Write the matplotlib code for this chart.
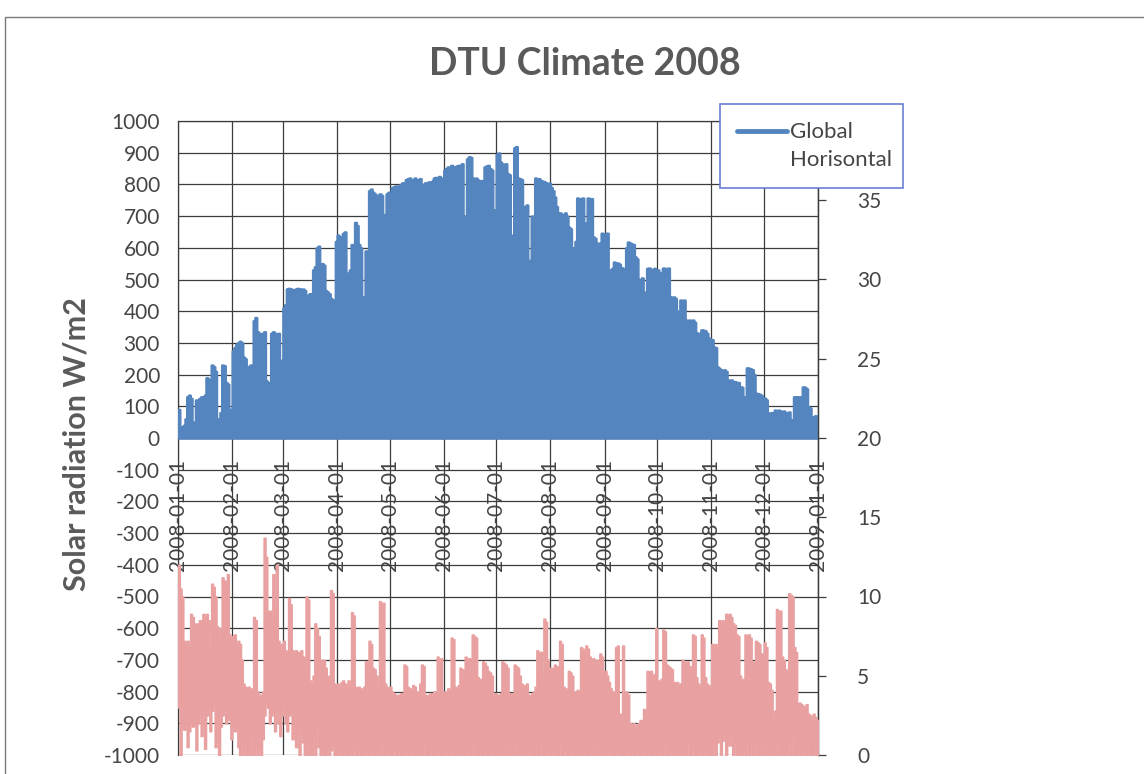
import numpy as np
import matplotlib
matplotlib.use("Agg")
import matplotlib.pyplot as plt
from matplotlib.patches import Rectangle
from matplotlib.lines import Line2D

plt.rcParams['font.family'] = ['Lato', 'DejaVu Sans']
plt.rcParams['axes.unicode_minus'] = False

# ---------------- data ----------------
title = "DTU Climate 2008"
ylabel = "Solar radiation W/m2"
legend_label = "Global\nHorisontal"
start_date = "2008-01-01"
month_labels = ["2008-01-01", "2008-02-01", "2008-03-01", "2008-04-01",
                "2008-05-01", "2008-06-01", "2008-07-01", "2008-08-01",
                "2008-09-01", "2008-10-01", "2008-11-01", "2008-12-01",
                "2009-01-01"]
left_ticks = list(range(-1000, 1001, 100))
right_limits = [0, 40]
right_ticks = list(range(0, 36, 5))   # the 40 label sits behind the legend

# daily peak of global horizontal radiation, W/m2 (night values are 0)
ghi_daily_peak = [
    90, 35, 30, 40, 60, 130, 135, 125, 50, 45, 120, 115, 125, 130, 125, 135, 190, 185, 160, 230, 225, 210, 55, 60, 80, 230, 228, 175, 170, 85, 90,
    275, 285, 295, 300, 305, 300, 255, 250, 225, 220, 230, 225, 370, 380, 335, 330, 250, 330, 335, 180, 175, 170, 330, 335, 330, 325, 330, 240, 245,
    410, 420, 470, 472, 470, 468, 360, 470, 472, 470, 468, 470, 465, 280, 450, 455, 445, 530, 540, 600, 605, 300, 550, 545, 465, 460, 455, 440, 435, 380, 620,
    640, 635, 360, 645, 650, 520, 510, 530, 610, 605, 680, 670, 610, 600, 440, 445, 590, 585, 780, 785, 775, 770, 765, 760, 770, 765, 700, 705, 770, 775,
    625, 790, 792, 795, 790, 795, 800, 805, 795, 815, 818, 820, 815, 810, 820, 815, 812, 818, 615, 800, 805, 800, 808, 805, 810, 820, 822, 818, 825, 820, 815,
    845, 850, 855, 850, 860, 855, 850, 858, 860, 855, 865, 700, 690, 880, 887, 885, 820, 815, 820, 814, 810, 812, 520, 855, 858, 860, 850, 845, 552, 720,
    895, 899, 870, 864, 860, 865, 834, 830, 640, 634, 915, 919, 820, 818, 815, 730, 725, 735, 555, 560, 700, 680, 820, 815, 818, 812, 810, 808, 805, 800, 804,
    790, 780, 760, 730, 435, 710, 705, 700, 710, 700, 665, 660, 600, 580, 620, 757, 750, 755, 757, 678, 670, 757, 750, 755, 634, 630, 615, 612, 615, 646, 640,
    645, 646, 530, 520, 535, 555, 550, 552, 548, 537, 535, 382, 600, 618, 615, 612, 610, 571, 565, 500, 498, 505, 420, 460, 535, 536, 532, 530, 535, 530,
    530, 404, 520, 536, 535, 530, 536, 445, 440, 445, 440, 400, 380, 435, 430, 435, 372, 370, 372, 370, 372, 365, 331, 330, 325, 341, 340, 338, 330, 315, 312,
    310, 287, 285, 224, 220, 215, 212, 215, 210, 183, 180, 183, 175, 178, 172, 175, 161, 160, 130, 120, 221, 220, 218, 215, 200, 141, 140, 138, 135, 126,
    126, 120, 79, 75, 80, 60, 88, 85, 88, 85, 82, 85, 80, 75, 82, 57, 55, 130, 128, 130, 125, 130, 161, 160, 155, 98, 95, 67, 65, 70, 68,
]

# daily maximum / minimum of the second series (right axis)
wind_daily_max = [
    12.0, 10.5, 10.0, 7.2, 7.0, 7.2, 6.8, 8.9, 8.7, 8.3, 8.0, 8.3, 8.5, 8.4, 8.9, 8.6, 8.9, 8.5, 6.5, 10.8, 10.6, 10.0, 8.1, 7.5, 8.0, 11.2, 11.0, 10.8, 11.4, 7.6, 7.4,
    7.5, 7.6, 7.0, 7.2, 7.0, 6.0, 4.5, 4.3, 4.0, 4.3, 4.2, 3.8, 8.7, 8.5, 4.0, 3.8, 3.5, 4.0, 13.7, 12.5, 9.0, 9.1, 8.8, 11.4, 9.0, 12.0, 7.2, 7.0, 6.8,
    7.2, 6.6, 6.5, 9.9, 9.5, 6.6, 6.4, 6.6, 6.5, 6.4, 6.6, 6.2, 5.5, 10.0, 9.8, 4.7, 4.5, 5.0, 8.3, 8.0, 7.5, 6.0, 5.8, 6.0, 5.5, 4.8, 5.0, 10.4, 10.2, 4.5, 4.4,
    4.5, 4.0, 4.6, 4.7, 4.5, 4.2, 4.7, 4.4, 9.0, 8.8, 4.3, 4.0, 4.3, 4.2, 3.8, 4.3, 5.9, 5.8, 7.2, 7.0, 5.5, 5.4, 5.0, 4.0, 9.7, 9.5, 9.6, 4.5, 4.3, 4.2,
    4.3, 4.0, 3.9, 3.8, 3.6, 3.8, 3.9, 3.5, 5.7, 5.6, 4.3, 4.2, 4.0, 4.4, 4.3, 4.0, 3.8, 4.5, 5.7, 5.6, 3.8, 3.6, 3.8, 3.9, 3.7, 4.0, 3.8, 6.2, 6.0, 6.1, 4.0,
    4.0, 3.8, 4.2, 3.9, 7.4, 7.3, 4.3, 4.0, 4.4, 5.5, 5.4, 5.3, 6.2, 6.0, 6.1, 5.8, 7.6, 7.5, 7.4, 4.9, 4.7, 4.8, 5.9, 5.8, 5.6, 5.3, 5.2, 5.0, 3.8, 3.9,
    3.8, 3.6, 3.9, 5.9, 5.8, 5.7, 5.5, 3.8, 3.9, 3.7, 5.7, 5.6, 5.5, 5.0, 4.5, 4.4, 4.3, 4.5, 3.8, 3.6, 3.9, 4.0, 4.3, 6.6, 6.4, 6.5, 5.0, 8.6, 8.4, 6.0, 5.5,
    5.5, 5.4, 5.7, 5.6, 5.5, 7.2, 7.0, 4.3, 4.2, 4.0, 5.3, 5.2, 5.0, 4.0, 3.9, 4.1, 4.0, 6.8, 6.7, 6.5, 6.9, 6.7, 6.2, 6.0, 6.1, 5.8, 6.0, 5.5, 6.4, 6.2, 5.3,
    5.3, 5.0, 4.6, 4.2, 4.0, 3.8, 6.8, 6.9, 2.6, 2.5, 6.9, 4.0, 4.0, 3.8, 2.0, 1.8, 2.0, 1.7, 1.9, 2.0, 2.2, 1.8, 2.9, 2.8, 5.3, 5.2, 5.3, 5.0, 5.1, 8.0,
    4.7, 4.6, 4.8, 7.9, 7.8, 5.7, 5.6, 5.5, 5.4, 4.6, 4.5, 4.6, 4.4, 4.5, 6.0, 5.9, 5.8, 5.9, 5.6, 5.5, 7.6, 7.5, 4.9, 4.5, 4.2, 7.6, 7.4, 4.9, 4.5, 4.2, 4.4,
    7.0, 6.8, 7.0, 6.6, 8.5, 8.4, 8.5, 8.3, 8.9, 8.8, 8.9, 8.7, 8.3, 8.2, 7.6, 7.5, 5.0, 4.7, 4.8, 7.6, 7.5, 7.6, 7.4, 5.9, 5.8, 7.2, 7.1, 7.0, 6.4, 6.2,
    7.1, 6.8, 4.6, 4.5, 4.1, 2.2, 2.8, 9.2, 9.0, 9.1, 6.2, 6.0, 5.4, 5.2, 10.2, 10.1, 10.0, 6.8, 6.5, 3.2, 3.3, 3.2, 3.1, 3.0, 3.2, 2.6, 2.5, 2.2, 2.6, 2.4, 2.2,
]
wind_daily_min = [
    3.0, 0.0, 2.0, 1.6, 2.2, 0.5, 1.5, 2.0, 1.8, 2.5, 0.3, 2.0, 2.6, 1.2, 2.8, 0.4, 2.5, 3.0, 1.5, 2.8, 3.2, 0.5, 2.0, 0.0, 1.8, 2.5, 3.0, 2.0, 2.4, 2.2, 1.0,
    2.0, 1.5, 2.2, 0.5, 0.0, 0.8, 0.0, 1.0, 0.0, 0.5, 0.0, 1.2, 0.0, 0.6, 0.0, 0.5, 0.0, 1.0, 2.5, 3.5, 3.0, 2.0, 2.5, 3.0, 1.5, 2.8, 2.0, 1.2, 2.5,
    3.2, 2.0, 1.5, 2.5, 3.0, 1.0, 2.2, 0.5, 1.8, 0.0, 1.5, 0.8, 0.0, 1.0, 0.0, 0.5, 0.0, 1.2, 0.0, 2.0, 0.5, 0.0, 0.3, 0.0, 0.0, 0.5, 0.0, 0.3, 1.0, 0.0, 0.0,
    0.0, 0.3, 0.0, 0.0, 0.5, 0.0, 0.0, 0.2, 0.0, 0.6, 0.0, 0.0, 0.3, 0.0, 0.0, 0.0, 0.4, 0.0, 0.0, 0.5, 0.0, 0.0, 0.0, 0.3, 0.0, 0.8, 0.0, 0.0, 0.2, 0.0,
    0.0, 0.0, 0.3, 0.0, 0.0, 0.4, 0.0, 0.0, 0.0, 0.5, 0.0, 0.0, 0.3, 0.0, 0.0, 0.0, 0.2, 0.0, 0.0, 0.6, 0.0, 0.0, 0.0, 0.3, 0.0, 0.0, 0.0, 0.4, 0.0, 0.0, 0.0,
    0.0, 0.3, 0.0, 0.0, 0.5, 0.0, 0.0, 0.0, 0.2, 0.0, 0.4, 0.0, 0.0, 0.3, 0.0, 0.0, 0.6, 0.0, 0.0, 0.0, 0.3, 0.0, 0.0, 0.5, 0.0, 0.0, 0.0, 0.2, 0.0, 0.0,
    0.0, 0.0, 0.3, 0.0, 0.0, 0.6, 0.0, 0.0, 0.0, 0.3, 0.0, 0.8, 0.0, 0.0, 0.2, 0.0, 0.0, 0.0, 0.4, 0.0, 0.0, 0.0, 0.3, 0.0, 0.0, 0.7, 0.0, 0.0, 0.0, 0.3, 0.0,
    0.0, 0.4, 0.0, 0.0, 0.0, 0.6, 0.0, 0.0, 0.3, 0.0, 0.0, 0.0, 0.5, 0.0, 0.0, 0.2, 0.0, 0.0, 0.0, 0.4, 0.0, 0.0, 0.3, 0.0, 0.0, 0.0, 0.6, 0.0, 0.0, 0.3, 0.0,
    0.0, 0.0, 0.3, 0.0, 0.0, 0.0, 0.4, 0.0, 0.2, 0.0, 0.0, 0.0, 0.3, 0.0, 0.0, 0.2, 0.0, 0.0, 0.3, 0.0, 0.0, 0.0, 0.4, 0.0, 0.0, 0.5, 0.0, 0.0, 0.3, 0.0,
    0.0, 0.4, 0.0, 0.0, 0.6, 0.0, 0.0, 0.3, 0.0, 0.0, 0.0, 0.5, 0.0, 0.0, 0.3, 0.0, 0.0, 0.7, 0.0, 0.0, 0.4, 0.0, 0.0, 0.0, 0.3, 0.0, 0.0, 0.5, 0.0, 0.0, 0.0,
    0.0, 0.5, 0.0, 0.8, 1.2, 0.0, 0.9, 1.5, 0.0, 1.0, 0.6, 1.4, 0.0, 0.8, 0.0, 0.5, 0.0, 0.0, 0.3, 0.0, 1.0, 0.0, 0.6, 0.0, 0.0, 0.8, 0.0, 0.0, 0.4, 0.0,
    0.6, 0.0, 0.0, 0.3, 0.0, 0.0, 0.0, 1.0, 0.0, 0.5, 0.0, 0.0, 0.3, 0.0, 0.8, 0.0, 1.2, 0.0, 0.0, 0.4, 0.0, 0.0, 0.3, 0.0, 0.0, 0.5, 0.0, 0.0, 0.3, 0.0, 0.0,
]

# ---------------- styling ----------------
W, H = 1144, 774
BLUE = "#5585BE"
RED = "#E9A0A0"
GRID = "#3c3c3c"
TXT = "#454545"
TITLE_C = "#5a5a5a"

fig = plt.figure(figsize=(W / 100, H / 100), dpi=100)
fig.patch.set_facecolor("white")

ax = fig.add_axes([178 / W, 1 - 755 / H, 640 / W, (755 - 121) / H])
ax2 = ax.twinx()

n = len(ghi_daily_peak)
day_edges = np.datetime64(start_date) + np.arange(n + 1)
ghi_step = np.append(ghi_daily_peak, ghi_daily_peak[-1])
wmax_step = np.append(wind_daily_max, wind_daily_max[-1])
wmin_step = np.append(wind_daily_min, wind_daily_min[-1])

# blue: global horizontal (left axis)
ax.fill_between(day_edges, 0, ghi_step, step="post", facecolor=BLUE,
                edgecolor=BLUE, linewidth=1.8, zorder=3)

# red: second series (right axis)
ax2.fill_between(day_edges, wmin_step, wmax_step, step="post", facecolor=RED,
                 edgecolor=RED, linewidth=1.2, zorder=3)

# axes limits / ticks
month_pos = np.array(month_labels, dtype="datetime64[D]")
ax.set_xlim(month_pos[0], month_pos[-1])
ax.set_ylim(left_ticks[0], left_ticks[-1])
ax.set_yticks(left_ticks)
ax.set_yticklabels([str(t) for t in left_ticks])
ax.set_xticks(month_pos)
ax.set_xticklabels(month_labels)
ax2.set_ylim(*right_limits)
ax2.set_yticks(right_ticks)
ax2.set_yticklabels([str(t) for t in right_ticks])

ax.grid(True, color=GRID, linewidth=0.9, zorder=0)
ax.set_axisbelow(True)

ax.spines["bottom"].set_position(("data", 0))
for s in ["left", "top", "right", "bottom"]:
    ax.spines[s].set_color(GRID)
    ax.spines[s].set_linewidth(0.9)
for s in ["left", "top", "bottom"]:
    ax2.spines[s].set_visible(False)
ax2.spines["right"].set_color(GRID)
ax2.spines["right"].set_linewidth(0.9)

ax.tick_params(axis="y", length=0, pad=13, labelsize=15, labelcolor=TXT)
ax.tick_params(axis="x", length=0, pad=15, labelsize=15, labelcolor=TXT,
               labelrotation=90)
ax2.tick_params(axis="y", length=6, width=0.9, color=GRID, pad=22,
                labelsize=15, labelcolor=TXT)

# title and axis label
fig.text(585 / W, 1 - 64 / H, title, ha="center", va="center",
         fontsize=27, fontweight="bold", color=TITLE_C)
fig.text(77 / W, 1 - 444 / H, ylabel, ha="center", va="center",
         rotation=90, fontsize=22, fontweight="bold", color=TITLE_C)

# legend box
fig.add_artist(Rectangle((720 / W, 1 - 188 / H), 183 / W, 84 / H,
                         transform=fig.transFigure, facecolor="white",
                         edgecolor="#6a7ed6", linewidth=1.2, zorder=10))
fig.add_artist(Line2D([737 / W, 787 / W], [1 - 131 / H, 1 - 131 / H],
                      transform=fig.transFigure, color=BLUE, linewidth=3.5,
                      solid_capstyle="round", zorder=11))
fig.text(790 / W, 1 - 146 / H, legend_label, ha="left", va="center",
         fontsize=16, color=TXT, linespacing=1.55, zorder=12)

# chart area border (cut by the scan on the right and bottom)
fig.add_artist(Rectangle((5 / W, -0.1), 1.2, 1 - 17 / H + 0.1,
                         transform=fig.transFigure, fill=False,
                         edgecolor="#7a7a7a", linewidth=1.0, zorder=0))

fig.savefig("out.png", dpi=100)
